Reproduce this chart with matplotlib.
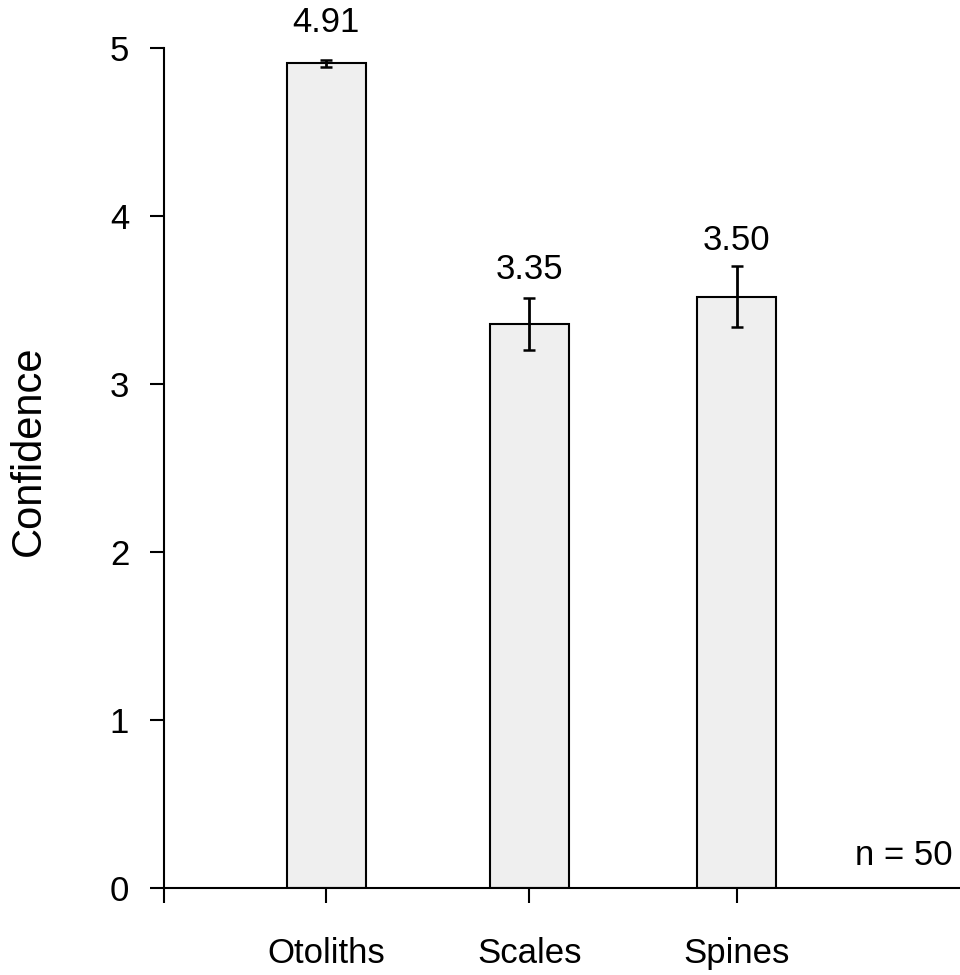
import matplotlib.pyplot as plt

plt.rcParams['font.family'] = ['Liberation Sans', 'DejaVu Sans']

categories = ['Otoliths', 'Scales', 'Spines']
positions = [0.8, 1.8, 2.82]
means = [4.91, 3.355, 3.52]
errors = [0.02, 0.155, 0.18]
value_labels = ['4.91', '3.35', '3.50']
label_offsets = [15, 9, 7]  # points above the error bar
n_text = 'n = 50'

fig = plt.figure(figsize=(9.6, 9.75), dpi=100)
ax = fig.add_axes([0.1708, 0.0892, 0.8292, 0.8615])

ax.bar(positions, means, width=0.39, color='#efefef', edgecolor='black',
       linewidth=1.5, zorder=2)
ax.errorbar(positions, means, yerr=errors, fmt='none', ecolor='black',
            elinewidth=2, capsize=4.3, capthick=1.8, zorder=3)

for x, m, e, lab, off in zip(positions, means, errors, value_labels, label_offsets):
    ax.annotate(lab, (x, m + e), xytext=(0, off), textcoords='offset points',
                ha='center', va='bottom', fontsize=25)

ax.text(0.991, 0.027, n_text, transform=ax.transAxes, ha='right', va='baseline',
        fontsize=25)

ax.set_xlim(0, 3.92)
ax.set_ylim(0, 5)
ax.set_yticks([0, 1, 2, 3, 4, 5])
ax.set_xticks([0] + positions)
ax.set_xticklabels([''] + categories)
ax.tick_params(axis='both', direction='out', width=1.5, labelsize=25)
ax.tick_params(axis='x', length=10.5, pad=25)
ax.tick_params(axis='y', length=10, pad=15)
ax.set_ylabel('Confidence', fontsize=30)
ax.yaxis.set_label_coords(-0.145, 0.521)

for s in ['top', 'right']:
    ax.spines[s].set_visible(False)
for s in ['left', 'bottom']:
    ax.spines[s].set_linewidth(1.5)

plt.savefig('out.png', dpi=100)
